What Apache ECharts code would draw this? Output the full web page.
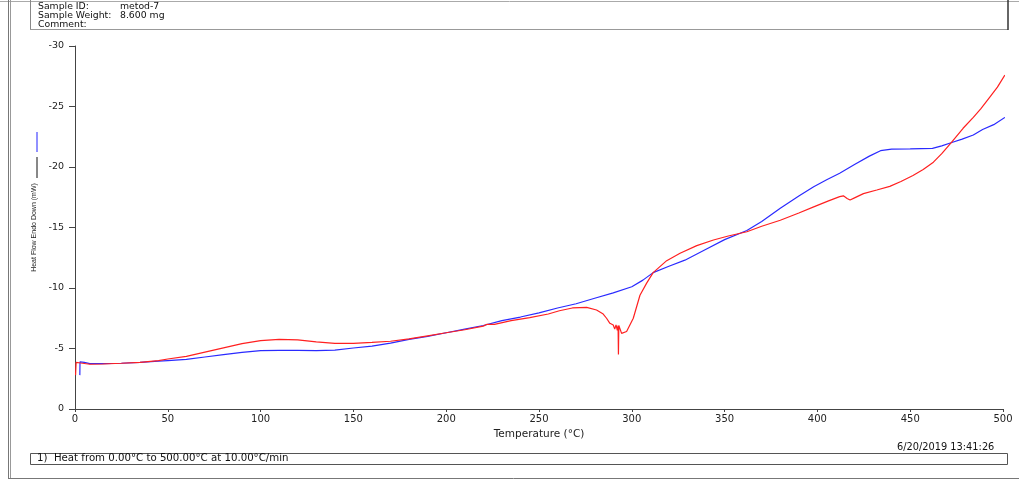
<!DOCTYPE html>
<html>
<head>
<meta charset="utf-8">
<script src="https://cdn.jsdelivr.net/npm/echarts@6/dist/echarts.min.js"></script>
<style>html,body{margin:0;padding:0;background:#fff;}#c{width:1019px;height:480px;}</style>
</head>
<body>
<div id="c"></div>
<script>
// Temperature (°C) and heat flow (mW)
const blueT = [2.6,2.7,3.5,5,8,15,25,35,45,50,60,70,80,90,100,110,120,130,140,150,160,170,180,190,200,210,220,230,240,250,260,270,280,290,300,306,311.5,320,328.6,340,350,362,370,380,390,398,405,412,420,428,434,440,450,462,467,472,478,484,489,495,501];
const blueV = [-2.8,-3.9,-4.05,-3.85,-3.75,-3.75,-3.78,-3.85,-3.95,-4.0,-4.1,-4.3,-4.5,-4.68,-4.82,-4.85,-4.85,-4.83,-4.87,-5.04,-5.2,-5.45,-5.75,-6.0,-6.3,-6.6,-6.9,-7.3,-7.6,-7.95,-8.35,-8.7,-9.15,-9.6,-10.1,-10.65,-11.27,-11.8,-12.3,-13.2,-14.0,-14.75,-15.5,-16.6,-17.6,-18.37,-18.95,-19.48,-20.2,-20.9,-21.35,-21.48,-21.5,-21.54,-21.75,-22.0,-22.3,-22.64,-23.1,-23.5,-24.1];
const redT = [0.3,0.6,3,8,15,25,35,45,50,60,70,80,90,100,110,120,130,140,150,160,170,180,190,200,210,220,222,226,235,245,255,261,268,275.7,281,284.6,285.5,286.4,287.3,288.2,289,290,290.8,291.5,292.2,292.6,292.8,293.0,293.6,294.5,295.4,297.2,300.8,304.4,308,311.5,318.8,326,335,344,352,362,370,380,390,398,406,412,414,416,417.6,420,424.8,432,439,445,451.5,457,462.5,467,472,478.5,484,488,493,497,501];
const redV = [-2.8,-3.85,-3.8,-3.7,-3.72,-3.78,-3.85,-4.0,-4.13,-4.35,-4.7,-5.05,-5.4,-5.65,-5.76,-5.72,-5.55,-5.43,-5.43,-5.5,-5.6,-5.8,-6.05,-6.3,-6.55,-6.85,-7.0,-7.0,-7.3,-7.55,-7.85,-8.12,-8.35,-8.4,-8.18,-7.85,-7.9,-7.5,-7.6,-7.08,-7.2,-6.94,-6.6,-6.95,-6.5,-6.9,-4.5,-6.9,-6.8,-6.25,-6.1,-6.4,-7.5,-9.4,-10.4,-11.27,-12.26,-12.87,-13.5,-13.97,-14.3,-14.65,-15.1,-15.6,-16.2,-16.7,-17.2,-17.55,-17.62,-17.4,-17.27,-17.45,-17.8,-18.1,-18.4,-18.8,-19.3,-19.8,-20.4,-21.1,-22.0,-23.2,-24.1,-24.8,-25.8,-26.6,-27.6];
const xTicks = {min: 0, max: 500, interval: 50};
const yTicks = {min: -30, max: 0, interval: 5};

const zip = (a, b) => a.map((t, i) => [t, b[i]]);
const font = 'DejaVu Sans, Liberation Sans, sans-serif';
const chart = echarts.init(document.getElementById('c'), null, {renderer: 'canvas'});
chart.setOption({
  animation: false,
  backgroundColor: '#fff',
  grid: {left: 75, right: 16, top: 46, bottom: 71},
  xAxis: {
    type: 'value', min: xTicks.min, max: xTicks.max, interval: xTicks.interval,
    name: 'Temperature (°C)', nameLocation: 'middle', nameGap: 15,
    nameTextStyle: {fontFamily: font, fontSize: 10.5, color: '#222'},
    axisLine: {lineStyle: {color: '#444', width: 1}},
    axisTick: {length: 3, lineStyle: {color: '#444'}},
    axisLabel: {fontFamily: font, fontSize: 10, color: '#222', margin: 5},
    splitLine: {show: false}
  },
  yAxis: {
    type: 'value', min: yTicks.min, max: yTicks.max, interval: yTicks.interval, inverse: true,
    name: 'Heat Flow Endo Down (mW)', nameLocation: 'middle', nameGap: 35, nameRotate: 90,
    nameTextStyle: {fontFamily: 'Liberation Sans, sans-serif', fontSize: 7, color: '#222'},
    axisLine: {show: true, lineStyle: {color: '#444', width: 1}},
    axisTick: {show: true, length: 6, lineStyle: {color: '#444'}},
    axisLabel: {fontFamily: font, fontSize: 9.5, color: '#222', margin: 11},
    splitLine: {show: false}
  },
  series: [
    {type: 'line', data: zip(blueT, blueV), showSymbol: false, symbol: 'none',
     lineStyle: {color: '#2a2aff', width: 1.2}, z: 2},
    {type: 'line', data: zip(redT, redV), showSymbol: false, symbol: 'none',
     lineStyle: {color: '#ff2020', width: 1.2}, z: 3}
  ],
  graphic: [
    {type: 'line', shape: {x1: 0, y1: 1.5, x2: 1019, y2: 1.5}, style: {stroke: '#aaa', lineWidth: 1}},
    {type: 'line', shape: {x1: 8.5, y1: 0, x2: 8.5, y2: 478}, style: {stroke: '#777', lineWidth: 1}},
    {type: 'line', shape: {x1: 10.5, y1: 0, x2: 10.5, y2: 478}, style: {stroke: '#999', lineWidth: 1}},
    {type: 'line', shape: {x1: 8, y1: 478.5, x2: 1019, y2: 478.5}, style: {stroke: '#777', lineWidth: 1}},
    {type: 'line', shape: {x1: 30.5, y1: 0, x2: 30.5, y2: 29}, style: {stroke: '#888', lineWidth: 1}},
    {type: 'line', shape: {x1: 30, y1: 29.5, x2: 1008, y2: 29.5}, style: {stroke: '#999', lineWidth: 1}},
    {type: 'line', shape: {x1: 1008, y1: 0, x2: 1008, y2: 30}, style: {stroke: '#333', lineWidth: 1.5}},
    {type: 'text', left: 38, top: 2, style: {text: 'Sample ID:', font: '9.3px ' + font, fill: '#111'}},
    {type: 'text', left: 120, top: 2, style: {text: 'metod-7', font: '9.3px ' + font, fill: '#111'}},
    {type: 'text', left: 38, top: 11, style: {text: 'Sample Weight:', font: '9.3px ' + font, fill: '#111'}},
    {type: 'text', left: 120, top: 11, style: {text: '8.600 mg', font: '9.3px ' + font, fill: '#111'}},
    {type: 'text', left: 38, top: 20, style: {text: 'Comment:', font: '9.3px ' + font, fill: '#111'}},
    {type: 'line', shape: {x1: 37, y1: 132, x2: 37, y2: 152}, style: {stroke: '#2222ff', lineWidth: 1}},
    {type: 'line', shape: {x1: 37, y1: 157, x2: 37, y2: 178}, style: {stroke: '#111', lineWidth: 1}},
    {type: 'text', left: 897, top: 442, style: {text: '6/20/2019 13:41:26', font: '9.8px ' + font, fill: '#111'}},
    {type: 'rect', shape: {x: 30.5, y: 453.5, width: 977, height: 11}, style: {fill: 'none', stroke: '#555', lineWidth: 1}},
    {type: 'text', left: 37, top: 453, style: {text: '1)  Heat from 0.00°C to 500.00°C at 10.00°C/min', font: '10.2px ' + font, fill: '#111'}}
  ]
});
</script>
</body>
</html>
